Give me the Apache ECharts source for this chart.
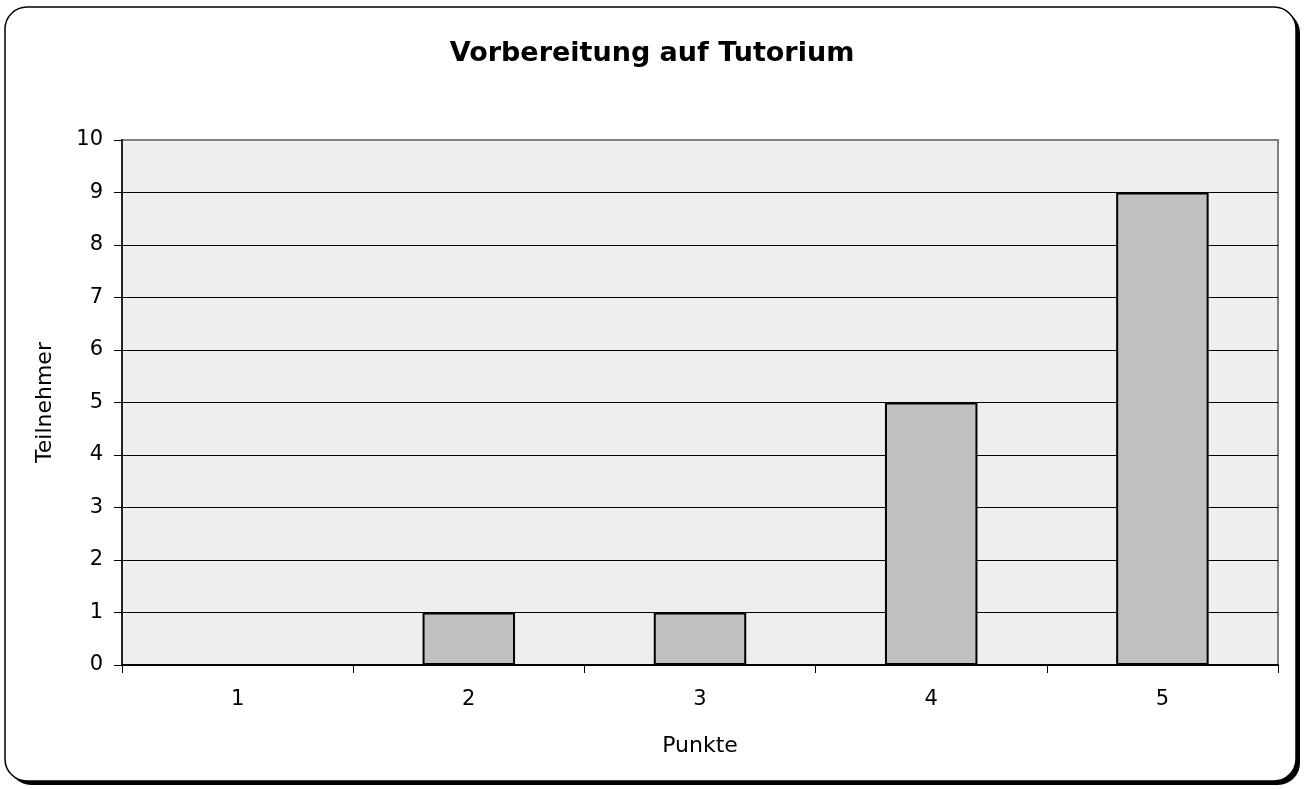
<!DOCTYPE html>
<html lang="de">

<head>
    <meta charset="UTF-8">
    <title>Vorbereitung auf Tutorium</title>
    <script src="https://cdn.jsdelivr.net/npm/echarts@6/dist/echarts.min.js"></script>
    <style>
        body {
            margin: 0;
            background: #fff;
        }

        #chart {
            width: 1304px;
            height: 789px;
        }
    </style>
</head>

<body>
    <div id="chart"></div>
    <script>
        const titleText = 'Vorbereitung auf Tutorium';
        const punkte = ['1', '2', '3', '4', '5'];
        const teilnehmer = [0, 1, 1, 5, 9];
        const fontName = '"DejaVu Sans", sans-serif';

        let my_chart = echarts.init(document.getElementById('chart'));

        let options = {
            animation: false,
            textStyle: { fontFamily: fontName },
            graphic: [
                {
                    // Schatten des Rahmens
                    type: 'rect',
                    z: -20,
                    silent: true,
                    shape: { x: 9, y: 11, width: 1291, height: 774, r: 22 },
                    style: { fill: '#000' }
                },
                {
                    // Rahmen
                    type: 'rect',
                    z: -10,
                    silent: true,
                    shape: { x: 5, y: 7, width: 1291, height: 774, r: 22 },
                    style: { fill: '#fff', stroke: '#000', lineWidth: 1.5 }
                }
            ],
            title: {
                text: titleText,
                left: 'center',
                top: 35,
                textStyle: {
                    fontFamily: fontName,
                    fontSize: 27,
                    fontWeight: 'bold',
                    color: '#000'
                }
            },
            grid: {
                left: 122,
                right: 26,
                top: 140,
                bottom: 124,
                show: true,
                backgroundColor: '#eeeeee',
                borderColor: '#808080',
                borderWidth: 2
            },
            xAxis: {
                type: 'category',
                data: punkte,
                name: 'Punkte',
                nameLocation: 'middle',
                nameGap: 70,
                nameTextStyle: { fontSize: 22, color: '#000', fontFamily: fontName },
                axisLine: { lineStyle: { color: '#000', width: 2 } },
                axisTick: { show: true, length: 8, lineStyle: { color: '#000' } },
                axisLabel: { fontSize: 21, color: '#000', margin: 24, fontFamily: fontName }
            },
            yAxis: {
                type: 'value',
                min: 0,
                max: 10,
                interval: 1,
                name: 'Teilnehmer',
                nameLocation: 'middle',
                nameGap: 66,
                nameTextStyle: { fontSize: 22, color: '#000', fontFamily: fontName },
                axisLine: { show: true, lineStyle: { color: '#222', width: 2 } },
                axisTick: { show: true, length: 8, lineStyle: { color: '#000' } },
                axisLabel: { fontSize: 21, color: '#000', margin: 19, fontFamily: fontName },
                splitLine: {
                    showMinLine: false,
                    showMaxLine: false,
                    lineStyle: { color: '#000', width: 1 }
                }
            },
            series: [
                {
                    name: 'Teilnehmer',
                    type: 'bar',
                    data: teilnehmer,
                    barWidth: '40%',
                    itemStyle: {
                        color: '#c0c0c0',
                        borderColor: '#000',
                        borderWidth: 2
                    }
                }
            ]
        };
        my_chart.setOption(options);
    </script>
</body>

</html>
